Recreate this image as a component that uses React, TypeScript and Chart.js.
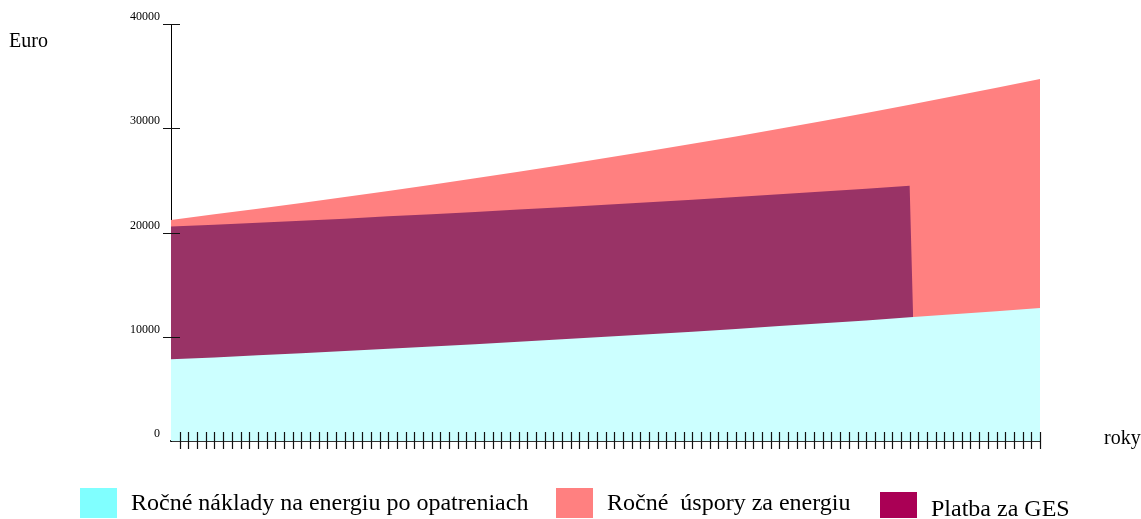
import React, { useEffect, useRef } from "react";
import { Chart, registerables } from "chart.js";

Chart.register(...registerables);

// Years (x axis, "roky")
const years = [0, 5, 10, 15, 20, 25, 30, 35, 40, 45, 50, 55, 60, 65, 70, 75, 80, 85, 90, 95, 100];

// Ročné náklady na energiu po opatreniach (Euro)
const costsAfter = [7830, 8020, 8220, 8420, 8630, 8850, 9060, 9290, 9520, 9750, 9990, 10240, 10490, 10750, 11020, 11290, 11570, 11860, 12150, 12450, 12760];

// Ročné úspory za energiu (Euro, stacked above the costs)
const savings = [13380, 13720, 14060, 14420, 14780, 15140, 15530, 15920, 16310, 16730, 17150, 17580, 18020, 18470, 18930, 19410, 19900, 20390, 20910, 21430, 21970];

// Platba za GES (Euro, stacked above the costs) – ends after year 85
const paymentYears = [0, 5, 10, 15, 20, 25, 30, 35, 40, 45, 50, 55, 60, 65, 70, 75, 80, 85, 85.4];
const payment = [12740, 12730, 12720, 12710, 12700, 12700, 12690, 12680, 12680, 12670, 12670, 12660, 12650, 12650, 12640, 12640, 12630, 12620, 0];

// y axis tick values
const yTicks = [0, 10000, 20000, 30000, 40000];

const SERIF = "'Liberation Serif', 'Times New Roman', serif";

const costAt = (yr: number) => costsAfter[years.indexOf(Math.floor(yr / 5) * 5)];

const axisMarks = {
  id: "axisMarks",
  afterDraw(chart: any) {
    const { ctx, chartArea } = chart;
    const xs = chart.scales.x;
    const ys = chart.scales.y;
    ctx.save();
    ctx.strokeStyle = "#111";
    ctx.lineWidth = 1.2;
    ctx.beginPath();
    ys.ticks.forEach((t: any) => {
      if (t.value === 0) return;
      const py = Math.round(ys.getPixelForValue(t.value)) + 0.5;
      ctx.moveTo(chartArea.left - 8, py);
      ctx.lineTo(chartArea.left + 9, py);
    });
    xs.ticks.forEach((t: any) => {
      if (t.value === 0) return;
      const px = Math.round(xs.getPixelForValue(t.value)) + 0.5;
      ctx.moveTo(px, chartArea.bottom - 9);
      ctx.lineTo(px, chartArea.bottom + 8);
    });
    ctx.stroke();
    ctx.restore();
  },
};

export default function App() {
  const canvasRef = useRef<HTMLCanvasElement | null>(null);

  useEffect(() => {
    const canvas = canvasRef.current;
    if (!canvas) return;
    const chart = new Chart(canvas, {
      type: "line",
      data: {
        datasets: [
          {
            label: "Ročné náklady na energiu po opatreniach",
            data: years.map((x, i) => ({ x, y: costsAfter[i] })),
            backgroundColor: "#CCFFFF",
            borderWidth: 0,
            pointRadius: 0,
            fill: "origin",
          },
          {
            label: "Platba za GES",
            data: paymentYears.map((x, i) => ({ x, y: costAt(x) + payment[i] })),
            backgroundColor: "#993366",
            borderWidth: 0,
            pointRadius: 0,
            fill: "origin",
          },
          {
            label: "Ročné úspory za energiu",
            data: years.map((x, i) => ({ x, y: costsAfter[i] + savings[i] })),
            backgroundColor: "#FF8080",
            borderWidth: 0,
            pointRadius: 0,
            fill: "origin",
          },
        ],
      },
      options: {
        animation: false,
        responsive: false,
        devicePixelRatio: 1,
        layout: { padding: { top: 24, right: 101, left: 0, bottom: 0 } },
        plugins: {
          legend: { display: false },
          tooltip: { enabled: false },
        },
        elements: { line: { tension: 0 } },
        scales: {
          x: {
            type: "linear",
            min: 0,
            max: 100,
            grid: { display: false, drawTicks: false },
            border: { display: true, color: "#333", width: 2 },
            ticks: { display: false, stepSize: 1, maxTicksLimit: 101 },
            afterFit: (s: any) => {
              s.height = 78;
            },
          },
          y: {
            type: "linear",
            min: 0,
            max: 40000,
            grid: { display: false, drawTicks: false },
            border: { display: true, color: "#000", width: 1 },
            afterBuildTicks: (s: any) => {
              s.ticks = yTicks.map((v) => ({ value: v }));
            },
            ticks: {
              stepSize: 10000,
              padding: 11,
              labelOffset: -7,
              color: "#000",
              font: { family: SERIF, size: 12 },
              callback: (v: any) => String(v),
            },
            afterFit: (s: any) => {
              s.width = 171;
            },
          },
        },
      },
      plugins: [axisMarks],
    });
    return () => chart.destroy();
  }, []);

  const text: React.CSSProperties = {
    position: "absolute",
    fontFamily: SERIF,
    color: "#000",
    whiteSpace: "pre",
    lineHeight: 1,
  };
  const legendText: React.CSSProperties = {
    ...text,
    fontSize: 24,
  };

  return (
    <div style={{ position: "absolute", left: 0, top: 0, width: 1141, height: 519, background: "#fff" }}>
      <canvas ref={canvasRef} width={1141} height={519} style={{ position: "absolute", left: 0, top: 0, width: 1141, height: 519 }} />
      <div style={{ ...text, fontSize: 20, left: 9, top: 30 }}>Euro</div>
      <div style={{ ...text, fontSize: 20, left: 1104, top: 427 }}>roky</div>

      <div style={{ position: "absolute", left: 80, top: 488, width: 37, height: 30, background: "#80FFFF" }} />
      <div style={{ ...legendText, left: 131, top: 490 }}>Ročné náklady na energiu po opatreniach</div>

      <div style={{ position: "absolute", left: 556, top: 488, width: 37, height: 30, background: "#FF8080" }} />
      <div style={{ ...legendText, left: 607, top: 490 }}>Ročné  úspory za energiu</div>

      <div style={{ position: "absolute", left: 880, top: 492, width: 37, height: 26, background: "#AA0055" }} />
      <div style={{ ...legendText, left: 931, top: 496 }}>Platba za GES</div>
    </div>
  );
}
